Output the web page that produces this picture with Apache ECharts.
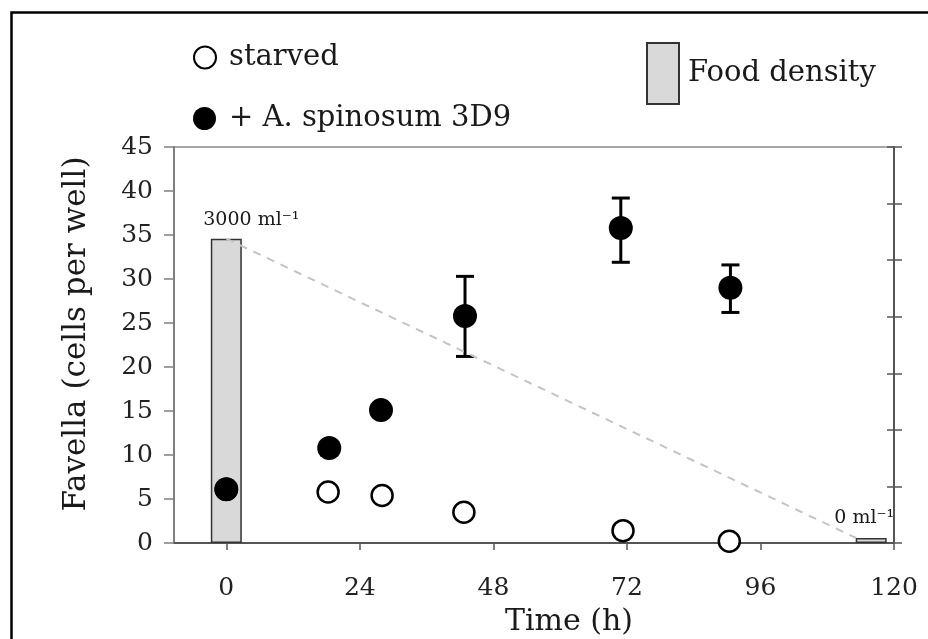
<!doctype html>
<html>
<head>
<meta charset="utf-8">
<script src="https://cdn.jsdelivr.net/npm/echarts@6/dist/echarts.min.js"></script>
<style>
  html, body { margin: 0; padding: 0; background: #fff; }
  #chart { width: 928px; height: 639px; }
</style>
</head>
<body>
<div id="chart"></div>
<script>
// time in hours, counts in cells per well
var starved = [[0, 6.1], [18.3, 5.8], [28.0, 5.4], [42.7, 3.5], [71.3, 1.4], [90.4, 0.2]]
var fed = [[0, 6.1], [18.5, 10.8], [27.8, 15.1], [42.9, 25.8], [70.9, 35.8], [90.6, 29.0]]
// [time, low, high]
var fed_err = [[18.5, 10.0, 11.3], [27.8, 14.4, 15.7], [42.9, 21.2, 30.3], [70.9, 31.9, 39.2], [90.6, 26.2, 31.6]]
// food density bars (right hidden scale) and their labels
var food = [[0, 2690], [115.9, 44]]
var food_labels = ['3000 ml⁻¹', '0 ml⁻¹']
var food_line = [[0, 2690], [113.2, 44]]
var x_ticks = [0, 24, 48, 72, 96, 120]

var FONT = 'DejaVu Serif'
var chart = echarts.init(document.getElementById('chart'))

var option = {
	animation: false,
	backgroundColor: '#fff',
	grid: {
		left: 174, right: 34, top: 147, bottom: 96,
		show: true, borderColor: '#8a8a8a', borderWidth: 1.5, backgroundColor: 'transparent'
	},
	legend: [
		{
			data: ['starved'], left: 188, top: 38, itemWidth: 22, itemHeight: 22,
			textStyle: { fontFamily: FONT, fontSize: 29, color: '#1a1a1a', padding: [0, 0, 0, 8] }
		},
		{
			data: ['+ A. spinosum 3D9'], left: 188, top: 99, itemWidth: 23, itemHeight: 23,
			textStyle: { fontFamily: FONT, fontSize: 29, color: '#1a1a1a', padding: [0, 0, 0, 8] }
		},
		{
			data: [{ name: 'Food density', icon: 'rect' }], left: 641, top: 37, itemWidth: 32, itemHeight: 61,
			textStyle: { fontFamily: FONT, fontSize: 29, color: '#1a1a1a', padding: [0, 0, 0, 4] }
		}
	],
	xAxis: {
		type: 'value', min: -9.4, max: 120,
		splitLine: { show: false },
		axisLine: { onZero: false, lineStyle: { color: '#555', width: 2 } },
		axisTick: { customValues: x_ticks, length: 7, lineStyle: { color: '#555', width: 1.5 } },
		axisLabel: { customValues: x_ticks, margin: 33, fontFamily: FONT, fontSize: 25, color: '#222' }
	},
	yAxis: [
		{
			type: 'value', min: 0, max: 45, interval: 5,
			splitLine: { show: false },
			axisLine: { show: true, onZero: false, lineStyle: { color: '#7f7f7f', width: 2 } },
			axisTick: { length: 10, lineStyle: { color: '#7f7f7f', width: 1.5 } },
			axisLabel: { margin: 21, fontFamily: FONT, fontSize: 25, color: '#222' }
		},
		{
			type: 'value', min: 0, max: 3500, interval: 500, position: 'right',
			splitLine: { show: false },
			axisLine: { show: true, onZero: false, lineStyle: { color: '#555', width: 2 } },
			axisTick: { inside: true, length: 7, lineStyle: { color: '#555', width: 1.5 } },
			axisLabel: { show: false }
		},
		{
			type: 'value', min: 0, max: 3500, interval: 500, position: 'right',
			splitLine: { show: false },
			axisLine: { show: false, onZero: false },
			axisTick: { length: 8, lineStyle: { color: '#555', width: 1.5 } },
			axisLabel: { show: false }
		}
	],
	series: [
		{
			name: 'Food density', type: 'bar', yAxisIndex: 1, barWidth: 31,
			data: food,
			itemStyle: { color: '#d9d9d9', borderColor: '#333', borderWidth: 1.5 },
			label: {
				show: true, position: 'top', distance: 9,
				fontFamily: FONT, fontSize: 19, color: '#1a1a1a',
				formatter: function (p) { return food_labels[p.dataIndex] }
			},
			labelLayout: function (p) {
				return p.dataIndex === 0 ? { dx: 25, dy: 0 } : { dx: -7, dy: -1 }
			}
		},
		{
			name: 'food trend', type: 'line', yAxisIndex: 1, data: food_line,
			symbol: 'none', silent: true,
			lineStyle: { color: '#c4c4c4', width: 2, type: [8, 7] }
		},
		{
			name: 'error', type: 'custom', data: fed_err,
			renderItem: function (params, api) {
				var top = api.coord([api.value(0), api.value(2)])
				var bot = api.coord([api.value(0), api.value(1)])
				var w = 9
				var st = { stroke: '#000', lineWidth: 3 }
				return {
					type: 'group',
					children: [
						{ type: 'line', shape: { x1: top[0], y1: top[1], x2: bot[0], y2: bot[1] }, style: st },
						{ type: 'line', shape: { x1: top[0] - w, y1: top[1], x2: top[0] + w, y2: top[1] }, style: st },
						{ type: 'line', shape: { x1: bot[0] - w, y1: bot[1], x2: bot[0] + w, y2: bot[1] }, style: st }
					]
				}
			}
		},
		{
			name: 'starved', type: 'scatter', data: starved, symbol: 'circle', symbolSize: 21,
			itemStyle: { color: '#fff', borderColor: '#000', borderWidth: 2.5, opacity: 1 }
		},
		{
			name: '+ A. spinosum 3D9', type: 'scatter', data: fed, symbol: 'circle', symbolSize: 24,
			itemStyle: { color: '#000', opacity: 1 }
		}
	],
	graphic: [
		{
			type: 'rect', left: 9, top: 10, silent: true,
			shape: { width: 940, height: 660 },
			style: { fill: 'none', stroke: '#000', lineWidth: 2.5 }
		},
		{
			type: 'text', x: 77, y: 334, rotation: Math.PI / 2, silent: true,
			style: {
				text: 'Favella (cells per well)', fontFamily: FONT, fontSize: 31, fill: '#1a1a1a',
				align: 'center', verticalAlign: 'middle'
			}
		},
		{
			type: 'text', x: 569, y: 622, silent: true,
			style: {
				text: 'Time (h)', fontFamily: FONT, fontSize: 30, fill: '#1a1a1a',
				align: 'center', verticalAlign: 'middle'
			}
		}
	]
}

chart.setOption(option)
</script>
</body>
</html>
